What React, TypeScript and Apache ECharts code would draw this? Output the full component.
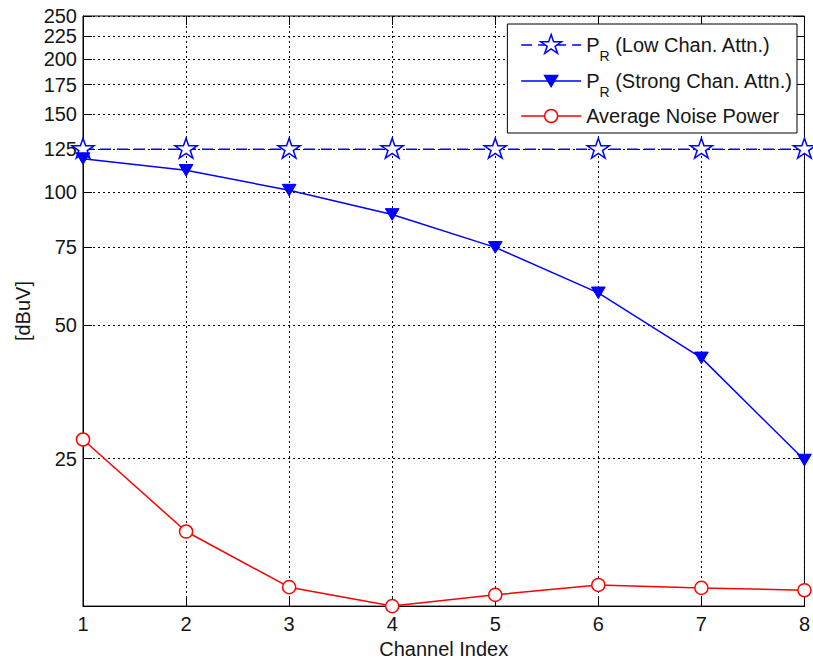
import React, { useEffect, useRef } from 'react';
import * as echarts from 'echarts';

const channels = [1, 2, 3, 4, 5, 6, 7, 8];
const lowAttn = [125, 125, 125, 125, 125, 125, 125, 125];
const strongAttn = [119, 112, 101, 89, 75, 59.2, 42.2, 24.8];
const noisePower = [27.6, 17.1, 12.8, 11.6, 12.3, 12.95, 12.75, 12.6];
const yTicks = [25, 50, 75, 100, 125, 150, 175, 200, 225, 250];
const yMin = 11.6;
const yMax = 250;
const seriesNames = ['PR (Low Chan. Attn.)', 'PR (Strong Chan. Attn.)', 'Average Noise Power'];

const FONT = '"Liberation Sans", Arial, Helvetica, sans-serif';
const BLUE = '#0000ff';
const RED = '#ff0000';
const TEXT = '#151515';
const L = (v: number) => Math.log10(v);

function starPath(): string {
  const pts: string[] = [];
  for (let k = 0; k < 10; k++) {
    const a = ((-90 + 36 * k) * Math.PI) / 180;
    const r = k % 2 === 0 ? 1 : 0.382;
    pts.push(`${(r * Math.cos(a)).toFixed(4)},${(r * Math.sin(a)).toFixed(4)}`);
  }
  return 'path://M0,1 M' + pts.join(' L') + ' Z';
}
const TRI = 'path://M-1.6,-1.6 M1.6,1.6 M-1,-0.85 L1,-0.85 L0,0.85 Z';
const CIRC = 'path://M-1.6,-1.6 M1.6,1.6 M1,0 A1,1 0 1,1 -1,0 A1,1 0 1,1 1,0 Z';

export default function App() {
  const ref = useRef<HTMLDivElement>(null);
  useEffect(() => {
    if (!ref.current) return;
    const chart = echarts.init(ref.current, null, { renderer: 'svg' });
    const yCustom = yTicks.map(L);
    const labelStyle = { fontSize: 20, color: TEXT, fontFamily: FONT };
    const option: any = {
      animation: false,
      backgroundColor: '#fff',
      grid: {
        left: 83,
        right: 6,
        top: 16,
        bottom: 51,
        show: true,
        borderColor: '#000',
        borderWidth: 1,
        backgroundColor: 'transparent',
      },
      legend: {
        show: true,
        orient: 'vertical',
        right: 16,
        top: 24,
        align: 'left',
        data: seriesNames,
        itemWidth: 60,
        itemHeight: 26,
        itemGap: 0,
        itemTextGap: 6,
        padding: [3, 4, 0, 13],
        backgroundColor: '#fff',
        borderColor: '#000',
        borderWidth: 1,
        lineStyle: { width: 1.5 },
        itemStyle: { borderWidth: 1.5 },
        formatter: (name: string) =>
          name.startsWith('PR')
            ? `{m|P}{s|R}{m|${name.slice(2)}}`
            : `{m3|${name}}`,
        textStyle: {
          fontFamily: FONT,
          fontSize: 20,
          color: TEXT,
          rich: {
            m: { fontFamily: FONT, fontSize: 20, lineHeight: 22, color: TEXT },
            s: { fontFamily: FONT, fontSize: 14, lineHeight: 14, color: TEXT, padding: [22, 0, 0, 0] },
            m3: { fontFamily: FONT, fontSize: 20, lineHeight: 22, color: TEXT, padding: [7, 0, 7, 0] },
          },
        },
      },
      xAxis: [
        {
          type: 'value',
          min: 1,
          max: 8,
          interval: 1,
          position: 'bottom',
          axisLine: { show: true, lineStyle: { color: '#000', width: 1 } },
          axisTick: { show: true, inside: true, length: 9, lineStyle: { color: '#000' } },
          axisLabel: { ...labelStyle, margin: 8, formatter: (v: number) => String(v) },
          splitLine: { show: true, lineStyle: { color: '#000', type: [2, 3], width: 1 } },
          name: 'Channel Index',
          nameLocation: 'middle',
          nameGap: 31,
          nameTextStyle: { ...labelStyle },
        },
        {
          type: 'value',
          min: 1,
          max: 8,
          interval: 1,
          position: 'top',
          axisLine: { show: false },
          axisTick: { show: true, inside: true, length: 9, lineStyle: { color: '#000' } },
          axisLabel: { show: false },
          splitLine: { show: false },
        },
      ],
      yAxis: [
        {
          type: 'value',
          min: L(yMin),
          max: L(yMax),
          position: 'left',
          axisLine: { show: true, lineStyle: { color: '#000', width: 1 } },
          axisTick: { show: true, inside: true, length: 9, customValues: yCustom, lineStyle: { color: '#000' } },
          axisLabel: {
            ...labelStyle,
            margin: 6,
            customValues: yCustom,
            formatter: (v: number) => String(Math.round(Math.pow(10, v))),
          },
          splitLine: { show: true, lineStyle: { color: '#000', type: [2, 3], width: 1 } },
          name: '[dBuV]',
          nameLocation: 'middle',
          nameGap: 48,
          nameTextStyle: { ...labelStyle },
        },
        {
          type: 'value',
          min: L(yMin),
          max: L(yMax),
          position: 'right',
          axisLine: { show: false },
          axisTick: { show: true, inside: true, length: 9, customValues: yCustom, lineStyle: { color: '#000' } },
          axisLabel: { show: false },
          splitLine: { show: false },
        },
      ],
      series: [
        {
          name: seriesNames[0],
          type: 'line',
          data: channels.map((c, i) => [c, L(lowAttn[i])]),
          symbol: starPath(),
          symbolSize: 22,
          lineStyle: { color: BLUE, width: 1.5, type: [11, 6] },
          itemStyle: { color: '#fff', borderColor: BLUE, borderWidth: 1.5 },
          z: 3,
        },
        {
          name: seriesNames[1],
          type: 'line',
          data: channels.map((c, i) => [c, L(strongAttn[i])]),
          symbol: TRI,
          symbolSize: 22,
          lineStyle: { color: BLUE, width: 1.5 },
          itemStyle: { color: BLUE, borderColor: BLUE, borderWidth: 1 },
          z: 3,
        },
        {
          name: seriesNames[2],
          type: 'line',
          data: channels.map((c, i) => [c, L(noisePower[i])]),
          symbol: CIRC,
          symbolSize: 21,
          lineStyle: { color: RED, width: 1.5 },
          itemStyle: { color: '#fff', borderColor: RED, borderWidth: 1.5 },
          z: 3,
        },
      ],
    };
    chart.setOption(option);
    return () => chart.dispose();
  }, []);
  return (
    <div
      ref={ref}
      style={{ position: 'fixed', left: 0, top: 0, width: 813, height: 664, background: '#fff' }}
    />
  );
}
